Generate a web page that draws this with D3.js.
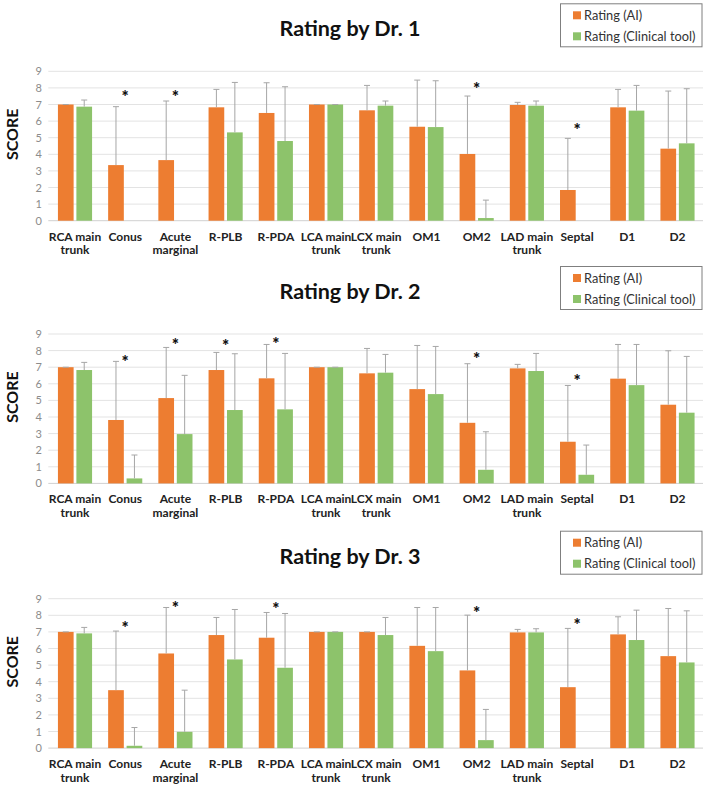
<!DOCTYPE html>
<html>
<head>
<meta charset="utf-8">
<script src="https://cdn.jsdelivr.net/npm/d3@7/dist/d3.min.js"></script>
<style>
html,body{margin:0;padding:0;background:#fff;}
svg{display:block;}
</style>
</head>
<body>
<svg id="chart" width="706" height="788"></svg>
<script>
const categories = [["RCA main","trunk"],["Conus"],["Acute","marginal"],["R-PLB"],["R-PDA"],["LCA main","trunk"],["LCX main","trunk"],["OM1"],["OM2"],["LAD main","trunk"],["Septal"],["D1"],["D2"]];
const seriesNames = ["Rating (AI)", "Rating (Clinical tool)"];
const titles = ["Rating by Dr. 1", "Rating by Dr. 2", "Rating by Dr. 3"];
const yTicks = [0,1,2,3,4,5,6,7,8,9];

// Dr. 1
const ai1      = [7.0, 3.35, 3.65, 6.83, 6.49, 7.0, 6.65, 5.66, 4.02, 6.97, 1.85, 6.83, 4.34];
const aiUp1    = [7.0, 6.87, 7.21, 7.91, 8.31, 7.0, 8.15, 8.47, 7.51, 7.13, 4.96, 7.91, 7.81];
const clin1    = [6.87, 0, 0, 5.32, 4.80, 7.0, 6.93, 5.64, 0.16, 6.93, 0, 6.63, 4.66];
const clinUp1  = [7.27, null, null, 8.33, 8.07, 7.0, 7.21, 8.43, 1.24, 7.21, null, 8.15, 7.95];
const star1    = [null, 7.69, 7.69, null, null, null, null, null, 8.17, null, 5.66, null, null];

// Dr. 2
const ai2      = [7.0, 3.82, 5.14, 6.83, 6.33, 7.0, 6.63, 5.68, 3.65, 6.93, 2.51, 6.31, 4.74];
const aiUp2    = [7.0, 7.35, 8.19, 7.89, 8.37, 7.0, 8.13, 8.31, 7.21, 7.17, 5.90, 8.37, 7.99];
const clin2    = [6.83, 0.30, 2.97, 4.42, 4.46, 7.0, 6.67, 5.38, 0.82, 6.77, 0.52, 5.92, 4.26];
const clinUp2  = [7.29, 1.71, 6.51, 7.81, 7.83, 7.0, 7.77, 8.25, 3.11, 7.83, 2.31, 8.37, 7.65];
const star2    = [null, 7.53, 8.53, 8.47, 8.63, null, null, null, 7.73, null, 6.39, null, null];

// Dr. 3
const ai3      = [7.0, 3.49, 5.70, 6.81, 6.65, 7.0, 7.0, 6.16, 4.68, 6.97, 3.67, 6.85, 5.54];
const aiUp3    = [7.0, 7.05, 8.47, 7.87, 8.17, 7.0, 7.0, 8.47, 8.01, 7.15, 7.21, 7.91, 8.41];
const clin3    = [6.91, 0.14, 0.98, 5.34, 4.84, 7.0, 6.81, 5.84, 0.48, 6.97, 0, 6.51, 5.16];
const clinUp3  = [7.27, 1.24, 3.49, 8.35, 8.11, 7.0, 7.87, 8.47, 2.33, 7.19, null, 8.31, 8.27];
const star3    = [null, 7.47, 8.67, null, 8.57, null, null, null, 8.35, null, 7.61, null, null];

const panels = [
  {title: titles[0], ai: ai1, aiUp: aiUp1, clin: clin1, clinUp: clinUp1, star: star1},
  {title: titles[1], ai: ai2, aiUp: aiUp2, clin: clin2, clinUp: clinUp2, star: star2},
  {title: titles[2], ai: ai3, aiUp: aiUp3, clin: clin3, clinUp: clinUp3, star: star3}
];

const colors = ["#ED7D31", "#8DC36B"];
const font = "Lato, 'Open Sans', sans-serif";
const svg = d3.select("#chart");
const plotTops = [71.3, 334, 598.7];
const plotH = 149.4;
const gridL = 48.3, gridR = 703;

const catKeys = categories.map(c => c.join(" "));
const x0 = d3.scaleBand().domain(catKeys).range([49.9, 702.6]).paddingInner(0.32).paddingOuter(0.16);
const x1 = d3.scaleBand().domain(["ai","clin"]).range([0, x0.bandwidth()]).paddingInner(0.15);

panels.forEach((p, pi) => {
  const top = plotTops[pi];
  const y = d3.scaleLinear().domain([0, 9]).range([top + plotH, top]);
  const g = svg.append("g");

  // gridlines
  g.append("g").selectAll("line").data(yTicks).join("line")
    .attr("x1", gridL).attr("x2", gridR)
    .attr("y1", d => y(d)).attr("y2", d => y(d))
    .attr("stroke", d => d === 0 ? "#d0d0d0" : "#e3e3e3").attr("stroke-width", 1);

  // y axis labels
  const yAxis = d3.axisLeft(y).tickValues(yTicks).tickSize(0).tickPadding(0);
  const ya = g.append("g").attr("transform", `translate(42,0)`).call(yAxis);
  ya.select(".domain").remove();
  ya.selectAll("text").attr("font-family", font).attr("font-size", 11).attr("fill", "#8c8c8c");

  // SCORE label
  g.append("text").attr("transform", `translate(17.5,${top + 63}) rotate(-90)`)
    .attr("text-anchor", "middle").attr("font-family", font).attr("font-weight", 700)
    .attr("font-size", 16).attr("fill", "#111").text("SCORE");

  // title
  g.append("text").attr("x", 350).attr("y", top - 35).attr("text-anchor", "middle")
    .attr("font-family", font).attr("font-weight", 700).attr("font-size", 21.5)
    .attr("fill", "#111").text(p.title);

  // legend
  const lg = g.append("g");
  lg.append("rect").attr("x", 560.5).attr("y", top - 67.5).attr("width", 141.5).attr("height", 43)
    .attr("fill", "#fff").attr("stroke", "#7f7f7f").attr("stroke-width", 1);
  seriesNames.forEach((s, si) => {
    const cy = top - 56 + si * 21;
    lg.append("rect").attr("x", 573).attr("y", cy - 4).attr("width", 8).attr("height", 8).attr("fill", colors[si]);
    lg.append("text").attr("x", 584).attr("y", cy + 4.5).attr("font-family", font)
      .attr("font-size", 12.8).attr("fill", "#333").text(s);
  });

  // bars
  const rows = catKeys.map((k, i) => ({k, i}));
  const groups = g.append("g").selectAll("g").data(rows).join("g")
    .attr("transform", d => `translate(${x0(d.k)},0)`);
  const series = [
    {key: "ai", vals: p.ai, ups: p.aiUp, color: colors[0]},
    {key: "clin", vals: p.clin, ups: p.clinUp, color: colors[1]}
  ];
  series.forEach(s => {
    groups.filter(d => s.vals[d.i] > 0).append("rect")
      .attr("x", x1(s.key)).attr("width", x1.bandwidth())
      .attr("y", d => y(s.vals[d.i])).attr("height", d => y(0) - y(s.vals[d.i]))
      .attr("fill", s.color);
  });
  // error bars
  series.forEach(s => {
    const eb = groups.filter(d => s.ups[d.i] != null).append("g").attr("stroke", "#a6a6a6").attr("stroke-width", 1);
    const cx = x1(s.key) + x1.bandwidth() / 2;
    eb.append("line").attr("x1", cx).attr("x2", cx)
      .attr("y1", d => y(s.vals[d.i])).attr("y2", d => y(s.ups[d.i]));
    eb.append("line").attr("x1", cx - 3).attr("x2", cx + 3)
      .attr("y1", d => y(s.ups[d.i])).attr("y2", d => y(s.ups[d.i]));
  });
  // stars
  groups.filter(d => p.star[d.i] != null).append("text")
    .attr("x", x0.bandwidth() / 2).attr("y", d => y(p.star[d.i]) + 9.5)
    .attr("text-anchor", "middle").attr("font-family", font).attr("font-weight", 900)
    .attr("font-size", 17).attr("fill", "#111").text("*");

  // category labels
  const xl = g.append("g").selectAll("text").data(categories).join("text")
    .attr("x", (d, i) => x0(catKeys[i]) + x0.bandwidth() / 2)
    .attr("y", top + plotH + 20)
    .attr("text-anchor", "middle").attr("font-family", font).attr("font-weight", 700)
    .attr("font-size", 12).attr("fill", "#222");
  xl.each(function(d) {
    const t = d3.select(this);
    d.forEach((line, li) => {
      t.append("tspan").attr("x", t.attr("x")).attr("dy", li === 0 ? 0 : 13.5).text(line);
    });
  });
});
</script>
</body>
</html>
